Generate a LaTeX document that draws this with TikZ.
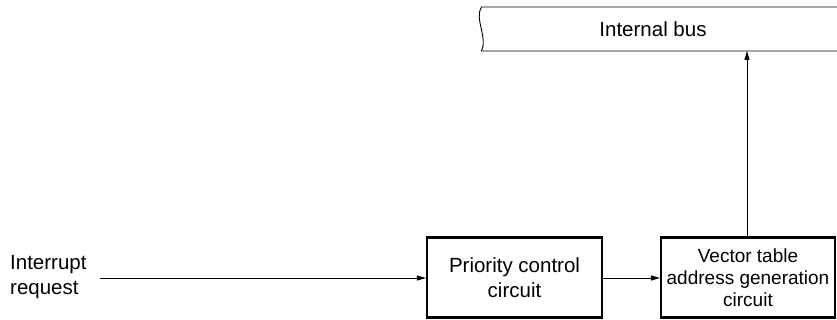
\documentclass[tikz,border=0pt]{standalone}
\usepackage{fontspec}
\setmainfont{Liberation Sans}
\usetikzlibrary{arrows.meta}
\begin{document}
\begin{tikzpicture}[x=1pt,y=-1pt,
  blockbox/.style={draw,line width=2.1pt,inner sep=0pt},
  conn/.style={line width=0.9pt,-{Triangle[length=9pt,width=5pt]}},
  bigtxt/.style={font=\fontsize{20.5}{25}\selectfont},
  smalltxt/.style={font=\fontsize{19}{22}\selectfont}]
\useasboundingbox (0,0) rectangle (837,320);
% internal bus
\coordinate (bustl) at (481.5,7);
\coordinate (busbl) at (481.5,51);
\draw[line width=0.9pt] (837,7) -- (bustl)
  .. controls (474,18) and (488,38) .. (busbl) -- (837,51);
\node[bigtxt] (bus) at (653,29) {Internal bus};
\coordinate (busb) at (747,51);
% blocks
\node[blockbox,minimum width=175pt,minimum height=80pt,align=center,bigtxt] (prio) at (514.5,277.5) {Priority control\\circuit};
\node[blockbox,minimum width=174pt,minimum height=80pt,align=center,smalltxt] (vec) at (748,277.5) {Vector table\\address generation\\circuit};
% input label
\node[bigtxt,align=left,anchor=west,inner sep=0pt] (irq) at (10,277) {Interrupt\\request};
\coordinate (irqend) at (100,278);
% connectors
\draw[conn] (irqend) -- (prio.west |- irqend);
\draw[conn] (prio.east |- irqend) -- (vec.west |- irqend);
\draw[conn] (vec.north -| busb) -- (busb);
\end{tikzpicture}
\end{document}
